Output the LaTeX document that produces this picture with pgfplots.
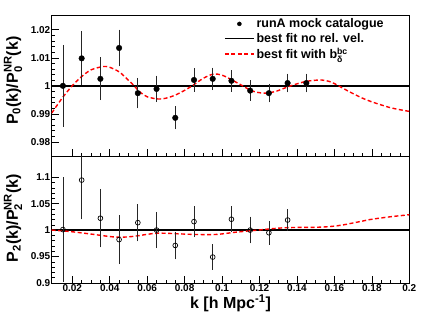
\documentclass[border=0pt]{standalone}
\usepackage{fontspec}
\setmainfont{Liberation Sans}
\usepackage{amsmath}
\usepackage{pgfplots}
\usepackage{pgfplotstable}
\pgfplotsset{compat=1.18}

\pgfplotstableread{
k v e
0.015 1.0000 0.0142
0.025 1.0098 0.0092
0.035 1.0025 0.0072
0.045 1.0135 0.0061
0.055 0.9974 0.0050
0.065 0.9989 0.0043
0.075 0.9886 0.0037
0.085 1.0021 0.0038
0.095 1.0025 0.0036
0.105 1.0018 0.0034
0.115 0.9983 0.0032
0.125 0.9974 0.0029
0.135 1.0010 0.0029
0.145 1.0010 0.0029
}\topdata

\pgfplotstableread{
k v e
0.015 1.0010 0.097
0.025 1.0945 0.072
0.035 1.0224 0.053
0.045 0.9820 0.044
0.055 1.0140 0.033
0.065 1.0000 0.032
0.075 0.9710 0.024
0.085 1.0160 0.027
0.095 0.9490 0.022
0.105 1.0205 0.022
0.115 1.0000 0.023
0.125 0.9950 0.020
0.135 1.0190 0.018
}\botdata

\pgfplotstableread{
k v
0.009 0.9903
0.012 0.9932
0.015 0.9960
0.018 0.9985
0.021 1.0008
0.025 1.0033
0.030 1.0057
0.0365 1.0069
0.040 1.0066
0.045 1.0050
0.050 1.0020
0.053 1.0000
0.056 0.9979
0.060 0.9961
0.066 0.9953
0.070 0.9956
0.075 0.9967
0.080 0.9984
0.084 1.0000
0.090 1.0027
0.0954 1.0042
0.100 1.0038
0.105 1.0022
0.111 1.0000
0.116 0.9982
0.122 0.9974
0.128 0.9979
0.133 0.9991
0.138 1.0003
0.145 1.0016
0.153 1.0021
0.158 1.0014
0.162 1.0001
0.168 0.9979
0.175 0.9956
0.180 0.9943
0.185 0.9932
0.190 0.9922
0.195 0.9915
0.200 0.9909
}\topfit

\pgfplotstableread{
k v
0.009 1.0000
0.015 0.9985
0.020 0.9968
0.030 0.9925
0.040 0.9878
0.045 0.9866
0.050 0.9872
0.055 0.9892
0.060 0.9920
0.065 0.9940
0.070 0.9940
0.075 0.9932
0.085 0.9918
0.095 0.9915
0.100 0.9928
0.106 0.9955
0.113 0.9980
0.120 1.0003
0.127 1.0027
0.133 1.0043
0.140 1.0050
0.150 1.0053
0.155 1.0060
0.160 1.0075
0.165 1.0100
0.170 1.0135
0.175 1.0170
0.180 1.0205
0.190 1.0252
0.200 1.0290
}\botfit

\pgfplotsset{
  rootaxis/.style={
    scale only axis, width=357.6pt,
    xmin=0.009, xmax=0.2,
    tick align=inside, tick pos=left,
    xtick={0.02,0.04,0.06,0.08,0.1,0.12,0.14,0.16,0.18,0.2},
    minor x tick num=3,
    major tick length=7pt, minor tick length=3.5pt,
    every tick/.style={black, line width=0.5pt},
    axis line style={line width=0.8pt},
    /pgf/number format/assume math mode=true,
    /pgf/number format/fixed,
    /pgf/number format/precision=3,
    ticklabel style={font=\fontsize{10}{12}\selectfont\bfseries},
    yticklabel style={inner sep=1.2pt},
    xticklabel style={inner sep=1.5pt},
    every axis y label/.style={anchor=center, rotate=90, font=\fontsize{16}{19}\selectfont\bfseries},
    every axis x label/.style={at={(axis description cs:0.5,-0.16)}, anchor=center, font=\fontsize{16}{19}\selectfont\bfseries},
  },
  fitstyle/.style={red, line width=1.4pt, dash pattern=on 4pt off 2.5pt},
  onestyle/.style={black, line width=1.3pt},
  ebars/.style={error bars/.cd, y dir=both, y explicit,
    error bar style={line width=0.7pt, black!85},
    error mark options={mark size=1.2pt, line width=0.7pt, black!85}},
  linelegend/.style={legend image code/.code={\draw[##1] (0pt,0pt) -- (29pt,0pt);}},
  dotlegend/.style={legend image code/.code={\draw[mark repeat=2,mark phase=2,##1] plot coordinates {(0pt,0pt) (14.5pt,0pt) (29pt,0pt)};}},
}

\begin{document}
\begin{tikzpicture}
\path[use as bounding box] (0,0) rectangle (436pt,314pt);

\begin{axis}[rootaxis,
  at={(51.7pt,158pt)}, anchor=south west, height=140.3pt,
  ymin=0.975, ymax=1.025,
  ytick={0.98,0.99,1,1.01,1.02}, minor y tick num=4,
  xticklabels={},
  ylabel={P$_{\text{0}}$(k)/P$^{\text{NR}}_{\text{0}}$(k)},
  ylabel style={at={(axis description cs:-0.108,0.536)}},
  legend cell align=left,
  legend style={at={(rel axis cs:0.4818,0.995)}, anchor=north west,
    draw=none, fill=none, inner sep=0pt,
    font=\fontsize{12.5}{14}\selectfont\bfseries, row sep=0pt,
    /tikz/every even column/.append style={column sep=0pt}},
  linelegend,
]
\addplot[onestyle, forget plot] coordinates {(0.009,1) (0.2,1)};
\addplot[fitstyle, smooth, forget plot] table[x=k,y=v] {\topfit};
\addplot[only marks, mark=*, mark size=2.8pt, black, forget plot, ebars] table[x=k,y=v,y error=e] {\topdata};
\addlegendimage{only marks, mark=*, mark size=2pt, black, dotlegend}
\addlegendentry{runA mock catalogue}
\addlegendimage{onestyle, linelegend}
\addlegendentry{best fit no rel. vel.}
\addlegendimage{fitstyle, linelegend}
\addlegendentry{best fit with b$^{\text{bc}}_{\text{δ}}$}
\end{axis}

\begin{axis}[rootaxis,
  at={(51.7pt,31pt)}, anchor=south west, height=127pt,
  ymin=0.9, ymax=1.14,
  ytick={0.9,0.95,1,1.05,1.1}, minor y tick num=4,
  ylabel={P$_{\text{2}}$(k)/P$^{\text{NR}}_{\text{2}}$(k)},
  ylabel style={at={(axis description cs:-0.108,0.51)}},
  xlabel={k [h Mpc$^{\text{-1}}$]},
]
\addplot[onestyle] coordinates {(0.009,1) (0.2,1)};
\addplot[fitstyle, smooth] table[x=k,y=v] {\botfit};
\addplot[only marks, mark=o, mark size=2.4pt, black, mark options={fill=white, line width=0.7pt}, ebars] table[x=k,y=v,y error=e] {\botdata};
\end{axis}
\end{tikzpicture}
\end{document}
